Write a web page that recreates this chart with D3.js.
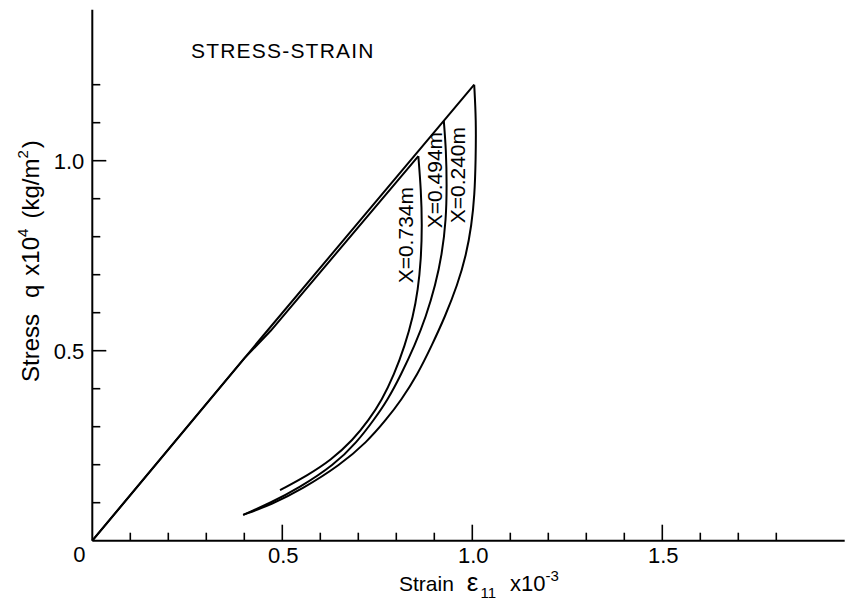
<!DOCTYPE html>
<html>
<head>
<meta charset="utf-8">
<script src="https://cdn.jsdelivr.net/npm/d3@7"></script>
<style>
  body { margin: 0; background: #fff; }
  text { font-family: "Liberation Sans", Arial, sans-serif; fill: #000; }
</style>
</head>
<body>
<div id="zone_graphique"></div>
<script>
var largeur = 845;
var hauteur = 614;

// ticks and labels
var xTicks = [0.1, 0.2, 0.3, 0.4, 0.5, 0.6, 0.7, 0.8, 0.9, 1.0, 1.1, 1.2, 1.3, 1.4, 1.5, 1.6, 1.7, 1.8];
var xLabels = [0.5, 1.0, 1.5];
var yTicks = [0.1, 0.2, 0.3, 0.4, 0.5, 0.6, 0.7, 0.8, 0.9, 1.0, 1.1, 1.2];
var yLabels = [0.5, 1.0];

// loading lines (strain x10^-3, stress x10^4 kg/m2)
var loadUpper = [[0, 0], [0.45, 0.54], [1.005, 1.2]];
var loadLower = [[0, 0], [0.40, 0.48], [0.47, 0.553], [0.858, 1.012]];

// unloading curves, one per depth
var unload734 = [[0.858, 1.012], [0.865, 0.923], [0.868, 0.831], [0.865, 0.739], [0.857, 0.660],
                 [0.844, 0.589], [0.823, 0.515], [0.794, 0.436], [0.762, 0.370], [0.728, 0.318],
                 [0.686, 0.265], [0.628, 0.212], [0.568, 0.173], [0.494, 0.133]];
var unload494 = [[0.925, 1.105], [0.931, 1.028], [0.933, 0.936], [0.931, 0.844], [0.920, 0.752],
                 [0.903, 0.673], [0.878, 0.589], [0.849, 0.515], [0.812, 0.436], [0.777, 0.370],
                 [0.741, 0.318], [0.697, 0.260], [0.636, 0.199], [0.544, 0.139], [0.468, 0.099], [0.397, 0.068]];
var unload240 = [[1.005, 1.2], [1.010, 1.107], [1.009, 1.002], [1.006, 0.909], [0.998, 0.830],
                 [0.984, 0.752], [0.961, 0.673], [0.928, 0.589], [0.894, 0.515], [0.855, 0.436],
                 [0.813, 0.370], [0.773, 0.318], [0.723, 0.260], [0.652, 0.199], [0.552, 0.136],
                 [0.473, 0.096], [0.397, 0.068]];

var curveLabels = ["X=0.734m", "X=0.494m", "X=0.240m"];

var svg = d3.select("#zone_graphique")
    .append("svg")
        .attr("width", largeur)
        .attr("height", hauteur);

// scales: origin at (92, 541), 380 px per unit on both axes
var x = d3.scaleLinear().domain([0, 2]).range([92.3, 852.3]);
var y = d3.scaleLinear().domain([0, 1.4]).range([540.7, 8.7]);

// axes drawn by hand (ticks point inward)
var axes = svg.append("g")
    .attr("stroke", "#000")
    .attr("stroke-width", 2)
    .attr("fill", "none");

axes.append("line")
    .attr("x1", x(0)).attr("y1", y(0))
    .attr("x2", x(1.98)).attr("y2", y(0));
axes.append("line")
    .attr("x1", x(0)).attr("y1", y(0))
    .attr("x2", x(0)).attr("y2", y(1.397));

axes.selectAll(".xt")
    .data(xTicks)
    .enter()
    .append("line")
        .attr("x1", function (d) { return x(d); })
        .attr("x2", function (d) { return x(d); })
        .attr("y1", y(0))
        .attr("y2", function (d) { return y(0) - (xLabels.indexOf(d) >= 0 ? 16 : 8); })
        .attr("stroke-width", 1.6);

axes.selectAll(".yt")
    .data(yTicks)
    .enter()
    .append("line")
        .attr("y1", function (d) { return y(d); })
        .attr("y2", function (d) { return y(d); })
        .attr("x1", x(0))
        .attr("x2", function (d) { return x(0) + (yLabels.indexOf(d) >= 0 ? 14 : 8); })
        .attr("stroke-width", 1.6);

// tick labels
svg.selectAll(".xl")
    .data(xLabels)
    .enter()
    .append("text")
        .attr("x", function (d) { return x(d) + 1; })
        .attr("y", y(0) + 22)
        .attr("text-anchor", "middle")
        .attr("font-size", "22px")
        .text(function (d) { return d.toFixed(1); });

svg.append("text")
    .attr("x", x(0) - 13)
    .attr("y", y(0) + 21)
    .attr("text-anchor", "middle")
    .attr("font-size", "22px")
    .text("0");

svg.selectAll(".yl")
    .data(yLabels)
    .enter()
    .append("text")
        .attr("x", x(0) - 8)
        .attr("y", function (d) { return y(d) + 8; })
        .attr("text-anchor", "end")
        .attr("font-size", "22px")
        .text(function (d) { return d.toFixed(1); });

// title
svg.append("text")
    .attr("x", 191)
    .attr("y", 58)
    .attr("font-size", "21px")
    .attr("letter-spacing", "1.2px")
    .text("STRESS-STRAIN");

// axis titles
var xt = svg.append("text")
    .attr("x", 399)
    .attr("y", 591)
    .attr("font-size", "21px");
xt.append("tspan").text("Strain");
xt.append("tspan").attr("dx", 13).attr("font-size", "26px").attr("font-weight", "300").text("\u03b5");
xt.append("tspan").attr("dx", 2).attr("dy", 7).attr("font-size", "15px").text("11");
xt.append("tspan").attr("dx", 14).attr("dy", -7).attr("font-size", "22px").text("x10");
xt.append("tspan").attr("dy", -10).attr("font-size", "15px").text("-3");

var yt = svg.append("text")
    .attr("transform", "translate(39,382) rotate(-90)")
    .attr("font-size", "24px");
yt.append("tspan").text("Stress");
yt.append("tspan").attr("dx", 16).text("q");
yt.append("tspan").attr("dx", 9).text("x10");
yt.append("tspan").attr("dy", -11).attr("font-size", "15px").text("4");
yt.append("tspan").attr("dx", 10).attr("dy", 11).text("(kg/m");
yt.append("tspan").attr("dy", -11).attr("font-size", "15px").text("2");
yt.append("tspan").attr("dx", 2).attr("dy", 11).text(")");

// curves
var ligne = d3.line()
    .x(function (d) { return x(d[0]); })
    .y(function (d) { return y(d[1]); });
var courbe = d3.line()
    .x(function (d) { return x(d[0]); })
    .y(function (d) { return y(d[1]); })
    .curve(d3.curveBasis);

svg.selectAll(".load")
    .data([loadUpper, loadLower])
    .enter()
    .append("path")
        .attr("d", ligne)
        .attr("fill", "none")
        .attr("stroke", "#000")
        .attr("stroke-width", 2);

svg.selectAll(".unload")
    .data([unload734, unload494, unload240])
    .enter()
    .append("path")
        .attr("d", courbe)
        .attr("fill", "none")
        .attr("stroke", "#000")
        .attr("stroke-width", 2);

// rotated curve labels (centre of each label, in data units)
var labelPos = [[0.823, 0.804], [0.899, 0.949], [0.960, 0.962]];
svg.selectAll(".cl")
    .data(curveLabels)
    .enter()
    .append("text")
        .attr("transform", function (d, i) {
            return "translate(" + (x(labelPos[i][0]) + 8) + "," + y(labelPos[i][1]) + ") rotate(-90)";
        })
        .attr("text-anchor", "middle")
        .attr("font-size", "21px")
        .text(function (d) { return d; });
</script>
</body>
</html>
